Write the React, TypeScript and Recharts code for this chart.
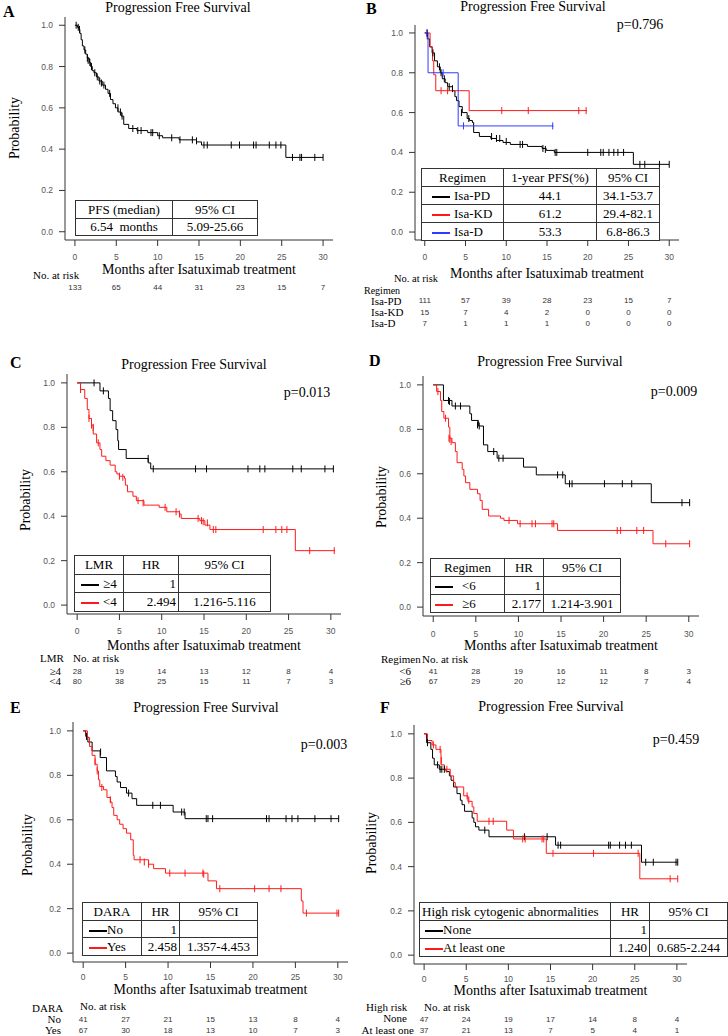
import React from "react";
import { ComposedChart, Line, Scatter, XAxis, YAxis } from "recharts";

type Pt = [number, number];

const months = [0, 5, 10, 15, 20, 25, 30];
const probTicks = [0, 0.2, 0.4, 0.6, 0.8, 1];

// A: all patients
const pfsAll: Pt[] = [[0,1],[0.3,0.99],[0.5,0.98],[0.6,0.96],[0.75,0.93],[0.9,0.9],[1.1,0.88],[1.3,0.86],[1.5,0.84],[1.75,0.82],[1.9,0.8],[2.1,0.78],[2.3,0.77],[2.6,0.75],[2.9,0.73],[3.3,0.71],[3.7,0.69],[4.0,0.67],[4.3,0.64],[4.6,0.62],[4.9,0.6],[5.2,0.58],[5.6,0.56],[5.9,0.52],[6.5,0.5],[7.5,0.49],[8.8,0.48],[10.0,0.465],[10.6,0.455],[12.6,0.445],[14.7,0.435],[15.3,0.42],[25.5,0.36],[30,0.36]];
const censAll: Pt[] = [[0.15,1],[0.4,0.99],[0.55,0.98],[1.2,0.88],[1.5,0.84],[1.6,0.83],[1.8,0.82],[2.0,0.8],[2.4,0.77],[2.7,0.75],[3.0,0.73],[3.2,0.72],[3.5,0.71],[4.2,0.67],[5.2,0.6],[5.5,0.58],[5.7,0.56],[7.0,0.5],[7.6,0.49],[8.0,0.49],[9.2,0.48],[9.4,0.48],[10.2,0.465],[11.7,0.455],[12.7,0.445],[14.2,0.445],[14.7,0.44],[15.6,0.42],[16.0,0.42],[18.9,0.42],[19.9,0.42],[21.6,0.42],[21.9,0.42],[23.5,0.42],[24.3,0.42],[24.9,0.42],[26.3,0.36],[27.2,0.36],[27.4,0.36],[29.0,0.36],[30,0.36]];
const riskAll = [133, 65, 44, 31, 23, 15, 7];

// B: regimen
const pfsPD: Pt[] = [[0,1],[0.3,0.97],[0.6,0.93],[0.9,0.9],[1.2,0.86],[1.55,0.83],[1.9,0.8],[2.15,0.77],[2.5,0.75],[2.8,0.73],[3.4,0.71],[3.7,0.68],[3.9,0.66],[4.2,0.63],[4.6,0.6],[5.2,0.57],[5.5,0.56],[5.85,0.55],[6.0,0.5],[6.7,0.48],[8.1,0.47],[8.8,0.46],[9.6,0.45],[10.5,0.44],[12.6,0.43],[14.4,0.42],[14.9,0.41],[15.9,0.4],[25.6,0.34],[30,0.34]];
const censPD: Pt[] = [[0.3,1],[1.0,0.9],[1.8,0.83],[2.0,0.8],[2.4,0.77],[3.0,0.73],[3.4,0.72],[4.5,0.6],[5.4,0.57],[8.2,0.48],[8.8,0.47],[9.2,0.47],[10.0,0.455],[11.7,0.44],[12.0,0.44],[14.5,0.42],[14.8,0.415],[16.0,0.4],[16.2,0.4],[20.0,0.4],[21.6,0.4],[21.9,0.4],[22.6,0.4],[23.2,0.4],[23.7,0.4],[24.4,0.4],[26.4,0.34],[27.0,0.34],[28.8,0.34],[30,0.34]];
const pfsKD: Pt[] = [[0,1],[0.65,0.93],[0.95,0.86],[1.1,0.79],[1.35,0.71],[5.45,0.61],[19.9,0.61]];
const censKD: Pt[] = [[2.0,0.71],[2.8,0.71],[9.45,0.61],[12.7,0.61],[18.9,0.61],[19.8,0.61]];
const pfsD: Pt[] = [[0,1],[0.4,0.8],[4.1,0.533],[15.8,0.533]];
const censD: Pt[] = [[0.25,1],[2.25,0.8],[4.75,0.533],[15.7,0.533]];
const riskPD = [111, 57, 39, 28, 23, 15, 7];
const riskKD = [15, 7, 4, 2, 0, 0, 0];
const riskD = [7, 1, 1, 1, 0, 0, 0];

// C: LMR
const pfsLmrHi: Pt[] = [[0,1],[2.7,0.964],[3.7,0.93],[3.9,0.875],[4.2,0.83],[4.6,0.79],[4.8,0.74],[4.9,0.7],[5.8,0.66],[8.4,0.64],[8.7,0.613],[30.3,0.613]];
const censLmrHi: Pt[] = [[2.0,1],[3.1,0.964],[8.4,0.66],[9.0,0.613],[14.0,0.613],[15.3,0.613],[20.2,0.613],[21.6,0.613],[22.2,0.613],[25.5,0.613],[26.5,0.613],[29.3,0.613],[30.3,0.613]];
const pfsLmrLo: Pt[] = [[0,1],[0.4,0.97],[0.9,0.93],[1.2,0.88],[1.4,0.84],[1.7,0.81],[1.9,0.77],[2.3,0.73],[2.7,0.7],[2.9,0.67],[3.4,0.65],[3.9,0.63],[4.5,0.6],[4.7,0.59],[5.0,0.58],[5.6,0.57],[5.7,0.54],[5.95,0.51],[6.6,0.49],[7.0,0.47],[7.9,0.45],[9.7,0.44],[10.6,0.42],[12.1,0.41],[12.3,0.39],[14.5,0.38],[15.1,0.36],[15.7,0.34],[25.8,0.245],[30.5,0.245]];
const censLmrLo: Pt[] = [[0.4,0.97],[1.4,0.84],[1.7,0.81],[1.9,0.8],[2.5,0.73],[5.0,0.58],[5.4,0.575],[7.2,0.47],[7.8,0.46],[10.4,0.44],[11.7,0.42],[12.1,0.41],[14.3,0.39],[14.7,0.38],[14.9,0.375],[15.4,0.37],[16.1,0.34],[16.4,0.34],[22.0,0.34],[23.5,0.34],[24.2,0.34],[24.8,0.34],[27.5,0.245],[30.4,0.245]];
const riskLmrHi = [28, 19, 14, 13, 12, 8, 4];
const riskLmrLo = [80, 38, 25, 15, 11, 7, 3];

// D: prior regimens
const pfsRegLo: Pt[] = [[0,1],[1.2,0.93],[2.2,0.905],[4.3,0.87],[4.5,0.84],[5.3,0.815],[5.9,0.73],[6.4,0.7],[7.5,0.67],[10.6,0.63],[12.1,0.595],[15.5,0.555],[25.6,0.47],[30.1,0.47]];
const censRegLo: Pt[] = [[1.8,0.93],[1.9,0.925],[2.6,0.905],[3.2,0.905],[5.2,0.82],[5.4,0.815],[7.1,0.7],[7.7,0.67],[8.2,0.67],[14.6,0.595],[15.2,0.595],[16.0,0.555],[16.3,0.555],[20.1,0.555],[22.2,0.555],[23.3,0.555],[29.2,0.47],[30.1,0.47]];
const pfsRegHi: Pt[] = [[0,1],[0.4,0.97],[0.85,0.93],[1.0,0.88],[1.25,0.85],[1.8,0.81],[1.95,0.76],[2.2,0.74],[2.6,0.7],[2.8,0.65],[3.4,0.62],[3.6,0.59],[3.8,0.56],[4.3,0.53],[5.2,0.51],[5.5,0.48],[5.75,0.44],[6.5,0.41],[7.9,0.4],[8.3,0.39],[9.9,0.375],[14.6,0.345],[25.8,0.285],[30.1,0.285]];
const censRegHi: Pt[] = [[0.55,0.97],[1.45,0.85],[1.85,0.76],[1.95,0.755],[2.1,0.745],[8.9,0.39],[10.2,0.375],[11.6,0.375],[12.0,0.375],[13.95,0.375],[14.15,0.375],[21.6,0.345],[22.0,0.345],[23.9,0.345],[24.7,0.345],[27.3,0.285],[30.1,0.285]];
const riskRegLo = [41, 28, 19, 16, 11, 8, 3];
const riskRegHi = [67, 29, 20, 12, 12, 7, 4];

// E: prior daratumumab
const pfsDaraNo: Pt[] = [[0,1],[0.3,0.975],[0.55,0.95],[1.05,0.91],[2.0,0.88],[2.75,0.82],[3.8,0.795],[4.0,0.77],[4.4,0.745],[5.1,0.72],[5.75,0.695],[6.3,0.665],[10.6,0.635],[12.0,0.605],[30.1,0.605]];
const censDaraNo: Pt[] = [[0.4,0.975],[2.05,0.905],[5.35,0.72],[8.2,0.665],[9.1,0.665],[11.6,0.635],[11.9,0.635],[14.5,0.605],[14.7,0.605],[15.25,0.605],[21.6,0.605],[21.9,0.605],[23.9,0.605],[24.6,0.605],[25.3,0.605],[27.3,0.605],[29.2,0.605],[30.1,0.605]];
const pfsDaraYes: Pt[] = [[0,1],[0.5,0.97],[0.75,0.93],[1.05,0.89],[1.4,0.85],[1.65,0.82],[1.8,0.78],[1.95,0.75],[2.4,0.735],[2.8,0.7],[3.2,0.68],[3.4,0.655],[3.6,0.62],[4.0,0.6],[4.3,0.58],[4.7,0.56],[5.1,0.54],[5.6,0.51],[5.9,0.44],[6.0,0.42],[7.7,0.4],[8.3,0.38],[9.7,0.36],[14.7,0.325],[15.7,0.29],[25.7,0.235],[25.9,0.18],[30.1,0.18]];
const censDaraYes: Pt[] = [[1.4,0.86],[1.65,0.82],[2.2,0.745],[3.2,0.69],[6.7,0.42],[7.2,0.41],[7.7,0.4],[10.2,0.36],[12.0,0.36],[14.1,0.36],[14.2,0.355],[16.1,0.29],[20.2,0.29],[21.9,0.29],[23.3,0.29],[26.3,0.18],[29.9,0.18],[30.1,0.18]];
const riskDaraNo = [41, 27, 21, 15, 13, 8, 4];
const riskDaraYes = [67, 30, 18, 13, 10, 7, 3];

// F: high risk cytogenetics
const pfsHrNone: Pt[] = [[0,1],[0.3,0.96],[0.8,0.93],[1.0,0.89],[1.2,0.86],[1.8,0.84],[2.6,0.83],[3.0,0.81],[3.2,0.79],[3.5,0.76],[3.9,0.73],[4.3,0.7],[4.5,0.68],[4.8,0.65],[5.7,0.62],[5.9,0.6],[6.1,0.58],[6.5,0.565],[7.7,0.535],[15.6,0.497],[25.8,0.42],[30.1,0.42]];
const censHrNone: Pt[] = [[0.4,0.96],[1.6,0.86],[1.9,0.84],[2.1,0.84],[2.4,0.84],[7.2,0.565],[11.9,0.535],[14.6,0.535],[15.9,0.497],[16.2,0.497],[21.9,0.497],[22.1,0.497],[23.2,0.497],[23.9,0.497],[24.6,0.497],[26.3,0.42],[27.2,0.42],[29.9,0.42],[30.1,0.42]];
const pfsHrOne: Pt[] = [[0,1],[0.4,0.97],[0.95,0.95],[1.4,0.93],[2.0,0.86],[2.4,0.84],[3.1,0.81],[3.5,0.78],[3.7,0.76],[4.7,0.72],[5.2,0.695],[5.7,0.67],[5.9,0.64],[6.3,0.605],[9.8,0.565],[10.6,0.525],[14.5,0.46],[25.6,0.345],[30.1,0.345]];
const censHrOne: Pt[] = [[1.1,0.95],[1.9,0.93],[2.05,0.88],[2.7,0.84],[5.1,0.72],[5.3,0.7],[7.7,0.605],[8.2,0.605],[11.7,0.525],[12.0,0.525],[14.0,0.525],[14.2,0.525],[15.3,0.46],[20.1,0.46],[25.4,0.46],[29.2,0.345],[30.1,0.345]];
const riskHrNone = [47, 24, 19, 17, 14, 8, 4];
const riskHrOne = [37, 21, 13, 7, 5, 4, 1];

const BLACK = "#000";
const RED = "#ff1a1a";
const BLUE = "#2f3cff";
const SERIF = "'Liberation Serif', 'Times New Roman', serif";
const SANS = "'Liberation Sans', Arial, sans-serif";

const toPts = (a: Pt[]) => a.map(([t, s]) => ({ t, s }));
// anchor points so each risk-table axis is registered with the chart
const riskAnchor = months.map((t) => ({ t, s: 0 }));

interface Series {
  curve: Pt[];
  censor: Pt[];
  color: string;
}

interface PanelProps {
  box: [number, number, number, number];
  series: Series[];
  risk: number[][];
  riskY: number[];
  tickGap: number;
  labelGap: number;
}

const YW = 34;

function Censor(props: any) {
  const { cx, cy, color } = props;
  if (cx == null || cy == null) return null;
  return <line x1={cx} x2={cx} y1={cy - 3.5} y2={cy + 3.5} stroke={color} strokeWidth={1} />;
}

function KMPanel({ box, series, risk, riskY, tickGap, labelGap }: PanelProps) {
  const [l, t, r, b] = box;
  const mt = 2;
  const mr = 6;
  const mb = 2;
  const start = b + labelGap;
  const riskAxes = riskY.map((c, k) => {
    const top = k === 0 ? start : c - 7;
    const margin = c - top - 3;
    const height = k < riskY.length - 1 ? riskY[k + 1] - 7 - top : margin + 12;
    return { margin, height };
  });
  const riskH = riskAxes.reduce((s, a) => s + a.height, 0);
  const width = r - l + YW + mr;
  const height = b - t + mt + labelGap + riskH + mb;
  const tickStyle = { fontSize: 8.5, fill: "#555", fontFamily: SANS };

  return (
    <div style={{ position: "absolute", left: l - YW, top: t - mt }}>
      <ComposedChart width={width} height={height} margin={{ top: mt, right: mr, bottom: mb, left: 0 }}>
        <XAxis
          xAxisId={0}
          type="number"
          dataKey="t"
          domain={[-1.2, 31.2]}
          allowDataOverflow
          ticks={months}
          interval={0}
          tickSize={6}
          tickMargin={tickGap}
          height={labelGap}
          stroke="#333"
          tick={tickStyle}
          label={{
            value: "Months after Isatuximab treatment",
            position: "insideBottom",
            offset: 0,
            fontSize: 14,
            fill: "#000",
            fontFamily: SERIF,
          }}
        />
        {risk.map((row, k) => (
          <XAxis
            key={"r" + k}
            xAxisId={"r" + k}
            type="number"
            dataKey="t"
            domain={[-1.2, 31.2]}
            allowDataOverflow
            ticks={months}
            interval={0}
            axisLine={false}
            tickLine={false}
            tickSize={0}
            tickMargin={riskAxes[k].margin}
            height={riskAxes[k].height}
            tickFormatter={(_v: number, i: number) => String(row[i])}
            tick={{ fontSize: 8, fill: "#333", fontFamily: SANS }}
          />
        ))}
        <YAxis
          type="number"
          dataKey="s"
          domain={[-0.04, 1.04]}
          allowDataOverflow
          ticks={probTicks}
          interval={0}
          width={YW}
          tickSize={6}
          tickMargin={6}
          stroke="#333"
          tick={tickStyle}
          tickFormatter={(v: number) => v.toFixed(1)}
        />
        {risk.map((_row, k) => (
          <Line
            key={"a" + k}
            xAxisId={"r" + k}
            data={riskAnchor}
            dataKey="s"
            stroke="none"
            dot={false}
            activeDot={false}
            isAnimationActive={false}
          />
        ))}
        {series.map((s, i) => (
          <Line
            key={"l" + i}
            data={toPts(s.curve)}
            dataKey="s"
            type="stepAfter"
            stroke={s.color}
            strokeWidth={1}
            dot={false}
            activeDot={false}
            isAnimationActive={false}
          />
        ))}
        {series.map((s, i) => (
          <Scatter
            key={"c" + i}
            data={toPts(s.censor)}
            dataKey="s"
            fill={s.color}
            shape={(p: any) => <Censor {...p} color={s.color} />}
            isAnimationActive={false}
          />
        ))}
      </ComposedChart>
    </div>
  );
}

function T({
  x,
  y,
  children,
  size = 14,
  anchor = "middle",
  bold = false,
  font = SERIF,
  rotate = false,
}: {
  x: number;
  y: number;
  children: React.ReactNode;
  size?: number;
  anchor?: "start" | "middle" | "end";
  bold?: boolean;
  font?: string;
  rotate?: boolean;
}) {
  const tx = anchor === "middle" ? "-50%" : anchor === "end" ? "-100%" : "0";
  return (
    <div
      style={{
        position: "absolute",
        left: x,
        top: y,
        transform: `translate(${tx}, -50%)${rotate ? " rotate(-90deg)" : ""}`,
        fontSize: size,
        fontFamily: font,
        fontWeight: bold ? "bold" : "normal",
        whiteSpace: "pre",
        lineHeight: 1,
        color: "#000",
      }}
    >
      {children}
    </div>
  );
}

type Cell = string | { text: string; color: string; pad: number; gap: number };

function Table({
  x,
  y,
  cols,
  rowH,
  rows,
  aligns,
}: {
  x: number;
  y: number;
  cols: number[];
  rowH: number;
  rows: Cell[][];
  aligns: ("left" | "center" | "right")[][];
}) {
  const w = cols.reduce((a, c) => a + c, 0);
  return (
    <table
      style={{
        position: "absolute",
        left: x,
        top: y,
        width: w,
        borderCollapse: "collapse",
        tableLayout: "fixed",
        background: "#fff",
        border: "1.5px solid #222",
        fontFamily: SERIF,
        fontSize: 13,
      }}
    >
      <colgroup>
        {cols.map((c, i) => (
          <col key={i} style={{ width: c }} />
        ))}
      </colgroup>
      <tbody>
        {rows.map((row, ri) => (
          <tr key={ri} style={{ height: rowH }}>
            {row.map((cell, ci) => (
              <td
                key={ci}
                style={{
                  border: "1px solid #333",
                  padding: "0 2px",
                  textAlign: aligns[ri][ci],
                  whiteSpace: "pre",
                  lineHeight: 1,
                  height: rowH - 1,
                  overflow: "hidden",
                }}
              >
                {typeof cell === "string" ? (
                  cell
                ) : (
                  <span style={{ paddingLeft: cell.pad }}>
                    <span
                      style={{
                        display: "inline-block",
                        width: 18,
                        borderTop: `2px solid ${cell.color}`,
                        verticalAlign: "middle",
                        marginRight: cell.gap,
                      }}
                    />
                    {cell.text}
                  </span>
                )}
              </td>
            ))}
          </tr>
        ))}
      </tbody>
    </table>
  );
}

export default function App() {
  const c3: ("left" | "center" | "right")[][] = [
    ["center", "center", "center"],
    ["left", "right", "center"],
    ["left", "right", "center"],
  ];
  return (
    <div style={{ position: "absolute", left: 0, top: 0, width: 728, height: 1036, background: "#fff", overflow: "hidden" }}>
      {/* A */}
      <KMPanel
        box={[65, 17, 333, 240]}
        series={[{ curve: pfsAll, censor: censAll, color: BLACK }]}
        risk={[riskAll]}
        riskY={[287]}
        tickGap={8}
        labelGap={34}
      />
      <T x={3} y={12} anchor="start" size={16} bold>A</T>
      <T x={178} y={8}>Progression Free Survival</T>
      <T x={15} y={128} rotate>Probability</T>
      <T x={33} y={275} anchor="start" size={11}>No. at risk</T>
      <Table
        x={75}
        y={200}
        cols={[97, 85]}
        rowH={17.5}
        rows={[["PFS (median)", "95% CI"], ["6.54  months", "5.09-25.66"]]}
        aligns={[["center", "center"], ["center", "center"]]}
      />

      {/* B */}
      <KMPanel
        box={[415, 25, 679, 240]}
        series={[
          { curve: pfsPD, censor: censPD, color: BLACK },
          { curve: pfsKD, censor: censKD, color: RED },
          { curve: pfsD, censor: censD, color: BLUE },
        ]}
        risk={[riskPD, riskKD, riskD]}
        riskY={[300, 312, 323]}
        tickGap={8}
        labelGap={38}
      />
      <T x={366} y={9} anchor="start" size={16} bold>B</T>
      <T x={533} y={7}>Progression Free Survival</T>
      <T x={640} y={25}>p=0.796</T>
      <T x={394} y={279} anchor="start" size={10.5}>No. at risk</T>
      <T x={364} y={291} anchor="start" size={10}>Regimen</T>
      <T x={371} y={301} anchor="start" size={11}>Isa-PD</T>
      <T x={371} y={312} anchor="start" size={11}>Isa-KD</T>
      <T x={371} y={323} anchor="start" size={11}>Isa-D</T>
      <Table
        x={421}
        y={168}
        cols={[82, 93, 63]}
        rowH={18}
        rows={[
          ["Regimen", "1-year PFS(%)", "95% CI"],
          [{ text: "Isa-PD", color: BLACK, pad: 8, gap: 4 }, "44.1", "34.1-53.7"],
          [{ text: "Isa-KD", color: RED, pad: 8, gap: 4 }, "61.2", "29.4-82.1"],
          [{ text: "Isa-D", color: BLUE, pad: 8, gap: 4 }, "53.3", "6.8-86.3"],
        ]}
        aligns={[
          ["center", "center", "center"],
          ["left", "center", "center"],
          ["left", "center", "center"],
          ["left", "center", "center"],
        ]}
      />

      {/* C */}
      <KMPanel
        box={[67, 374, 341, 614]}
        series={[
          { curve: pfsLmrHi, censor: censLmrHi, color: BLACK },
          { curve: pfsLmrLo, censor: censLmrLo, color: RED },
        ]}
        risk={[riskLmrHi, riskLmrLo]}
        riskY={[671, 681]}
        tickGap={8}
        labelGap={36}
      />
      <T x={10} y={363} anchor="start" size={16} bold>C</T>
      <T x={194} y={365}>Progression Free Survival</T>
      <T x={307} y={393}>p=0.013</T>
      <T x={26} y={500} rotate>Probability</T>
      <T x={40} y={658} anchor="start" size={11}>LMR</T>
      <T x={73} y={658} anchor="start" size={11}>No. at risk</T>
      <T x={61} y={671} anchor="end" size={11}>≥4</T>
      <T x={61} y={681} anchor="end" size={11}>&lt;4</T>
      <Table
        x={74}
        y={555}
        cols={[49, 55, 92]}
        rowH={18.5}
        rows={[
          ["LMR", "HR", "95% CI"],
          [{ text: "≥4", color: BLACK, pad: 4, gap: 4 }, "1", ""],
          [{ text: "<4", color: RED, pad: 4, gap: 4 }, "2.494", "1.216-5.116"],
        ]}
        aligns={c3}
      />

      {/* D */}
      <KMPanel
        box={[423, 376, 699, 616]}
        series={[
          { curve: pfsRegLo, censor: censRegLo, color: BLACK },
          { curve: pfsRegHi, censor: censRegHi, color: RED },
        ]}
        risk={[riskRegLo, riskRegHi]}
        riskY={[671, 681]}
        tickGap={9}
        labelGap={34}
      />
      <T x={369} y={361} anchor="start" size={16} bold>D</T>
      <T x={550} y={362}>Progression Free Survival</T>
      <T x={674} y={392}>p=0.009</T>
      <T x={382} y={497} rotate>Probability</T>
      <T x={381} y={659} anchor="start" size={11}>Regimen</T>
      <T x={422} y={659} anchor="start" size={11}>No. at risk</T>
      <T x={411} y={671} anchor="end" size={11}>&lt;6</T>
      <T x={411} y={681} anchor="end" size={11}>≥6</T>
      <Table
        x={430}
        y={558}
        cols={[74, 39, 77]}
        rowH={18}
        rows={[
          ["Regimen", "HR", "95% CI"],
          [{ text: "<6", color: BLACK, pad: 2, gap: 9 }, "1", ""],
          [{ text: "≥6", color: RED, pad: 2, gap: 9 }, "2.177", "1.214-3.901"],
        ]}
        aligns={c3}
      />

      {/* E */}
      <KMPanel
        box={[73, 722, 348, 962]}
        series={[
          { curve: pfsDaraNo, censor: censDaraNo, color: BLACK },
          { curve: pfsDaraYes, censor: censDaraYes, color: RED },
        ]}
        risk={[riskDaraNo, riskDaraYes]}
        riskY={[1019, 1030]}
        tickGap={6}
        labelGap={32}
      />
      <T x={10} y={708} anchor="start" size={16} bold>E</T>
      <T x={206} y={708}>Progression Free Survival</T>
      <T x={324} y={745}>p=0.003</T>
      <T x={28} y={845} rotate>Probability</T>
      <T x={32} y={1008} anchor="start" size={11}>DARA</T>
      <T x={80} y={1006} anchor="start" size={11}>No. at risk</T>
      <T x={61} y={1019} anchor="end" size={11}>No</T>
      <T x={61} y={1030} anchor="end" size={11}>Yes</T>
      <Table
        x={82}
        y={902}
        cols={[59, 38, 78]}
        rowH={17.7}
        rows={[
          ["DARA", "HR", "95% CI"],
          [{ text: "No", color: BLACK, pad: 4, gap: 0 }, "1", ""],
          [{ text: "Yes", color: RED, pad: 4, gap: 0 }, "2.458", "1.357-4.453"],
        ]}
        aligns={c3}
      />

      {/* F */}
      <KMPanel
        box={[414, 725, 687, 964]}
        series={[
          { curve: pfsHrNone, censor: censHrNone, color: BLACK },
          { curve: pfsHrOne, censor: censHrOne, color: RED },
        ]}
        risk={[riskHrNone, riskHrOne]}
        riskY={[1019, 1030]}
        tickGap={6}
        labelGap={31}
      />
      <T x={380} y={708} anchor="start" size={16} bold>F</T>
      <T x={551} y={707}>Progression Free Survival</T>
      <T x={676} y={740}>p=0.459</T>
      <T x={372} y={843} rotate>Probability</T>
      <T x={366} y={1007} anchor="start" size={11}>High risk</T>
      <T x={424} y={1007} anchor="start" size={11}>No. at risk</T>
      <T x={407} y={1018} anchor="end" size={11}>None</T>
      <T x={414} y={1030} anchor="end" size={11}>At least one</T>
      <Table
        x={419}
        y={902}
        cols={[191, 39, 78]}
        rowH={18}
        rows={[
          ["High risk cytogenic abnormalities", "HR", "95% CI"],
          [{ text: "None", color: BLACK, pad: 3, gap: 0 }, "1", ""],
          [{ text: "At least one", color: RED, pad: 3, gap: 0 }, "1.240", "0.685-2.244"],
        ]}
        aligns={[
          ["left", "center", "center"],
          ["left", "right", "center"],
          ["left", "right", "center"],
        ]}
      />
    </div>
  );
}
